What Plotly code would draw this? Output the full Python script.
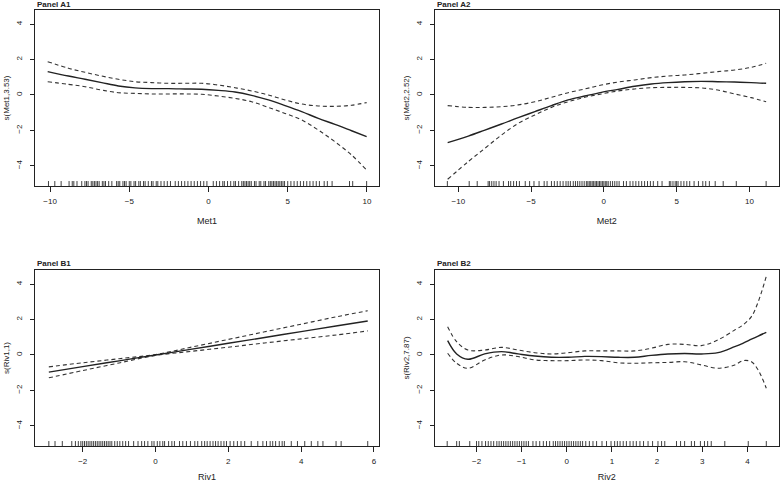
import plotly.graph_objects as go

# ---------------- data ----------------
# Panel A1 (Met1)
a1_x = [-10.15, -8.84, -7.79, -6.74, -5.69, -4.64, -3.59, -2.53, -1.48, -0.43, 0.62, 1.67, 2.72, 3.78, 4.83, 5.88, 6.93, 7.98, 9.03, 9.98]
a1_fit = [1.32, 1.07, 0.89, 0.70, 0.51, 0.40, 0.36, 0.36, 0.34, 0.32, 0.26, 0.17, -0.02, -0.28, -0.60, -0.94, -1.32, -1.66, -2.02, -2.35]
a1_up = [1.88, 1.51, 1.28, 1.07, 0.89, 0.75, 0.70, 0.66, 0.66, 0.66, 0.56, 0.41, 0.23, 0.00, -0.28, -0.51, -0.62, -0.64, -0.58, -0.43]
a1_lo = [0.75, 0.60, 0.47, 0.28, 0.13, 0.09, 0.06, 0.06, 0.06, 0.04, -0.06, -0.19, -0.38, -0.70, -1.04, -1.41, -1.98, -2.64, -3.39, -4.24]
a1_rug = [-10.1, -9.7, -9.3, -8.8, -8.6, -8.5, -8.3, -8.0, -7.8, -7.7, -7.6, -7.4, -7.3, -7.2, -7.1, -7.0, -6.9,
          -6.7, -6.6, -6.5, -6.3, -6.1, -5.8, -5.7, -5.6, -5.4, -5.3, -5.2, -5.0, -4.9, -4.7, -4.6, -4.4, -4.3,
          -4.1, -4.0, -3.8, -3.6, -3.5, -3.3, -3.2, -3.0, -2.8, -2.6, -2.4, -2.1, -1.9, -1.7, -1.5, -1.3, -1.1,
          -0.9, -0.7, -0.5, -0.3, -0.1, 0.3, 0.5, 0.7, 0.9, 1.0, 1.2, 1.4, 1.6, 1.7, 1.9, 2.1, 2.2, 2.3, 2.4,
          2.5, 2.6, 2.7, 2.9, 3.0, 3.2, 3.3, 3.5, 3.6, 3.8, 3.9, 4.0, 4.1, 4.2, 4.3, 4.4, 4.5, 4.6, 4.7, 4.8,
          5.0, 5.2, 5.4, 5.6, 5.8, 6.0, 6.2, 6.4, 6.6, 6.8, 7.0, 7.3, 7.5, 7.8, 8.9, 9.1, 9.98]

# Panel A2 (Met2)
a2_x = [-10.73, -9.31, -8.17, -7.03, -5.88, -4.74, -3.60, -2.45, -1.31, -0.17, 0.98, 2.12, 3.26, 4.41, 5.55, 6.69, 7.83, 8.98, 10.12, 11.15]
a2_fit = [-2.69, -2.32, -1.98, -1.64, -1.28, -0.94, -0.60, -0.28, -0.06, 0.15, 0.32, 0.49, 0.62, 0.70, 0.75, 0.77, 0.75, 0.73, 0.70, 0.66]
a2_up = [-0.60, -0.70, -0.70, -0.66, -0.56, -0.38, -0.13, 0.13, 0.34, 0.56, 0.73, 0.85, 0.98, 1.07, 1.13, 1.22, 1.32, 1.41, 1.56, 1.79]
a2_lo = [-4.76, -3.76, -3.01, -2.26, -1.60, -1.13, -0.70, -0.38, -0.13, 0.06, 0.23, 0.34, 0.41, 0.43, 0.43, 0.40, 0.28, 0.06, -0.15, -0.38]
a2_rug = [-10.75, -9.25, -8.7, -7.95, -7.85, -7.7, -7.55, -7.4, -7.2, -6.9, -6.55, -6.4, -6.2, -6.0, -5.8, -5.4,
          -5.1, -4.8, -4.45, -4.1, -3.9, -3.6, -3.4, -3.2, -3.0, -2.8, -2.6, -2.45, -2.3, -2.1, -1.95, -1.8,
          -1.65, -1.5, -1.35, -1.2, -1.1, -1.0, -0.9, -0.8, -0.7, -0.6, -0.5, -0.4, -0.3, -0.2, -0.1, 0.0,
          0.1, 0.2, 0.3, 0.45, 0.6, 0.75, 0.9, 1.05, 1.35, 1.55, 1.8, 2.0, 2.2, 2.4, 2.6, 2.8, 3.0, 3.2, 3.4,
          3.7, 4.0, 4.5, 4.6, 4.75, 4.9, 5.0, 5.1, 5.3, 5.5, 5.7, 5.9, 6.2, 6.5, 6.8, 7.0, 7.25, 7.65, 8.2,
          9.1, 11.15]

# Panel B1 (Riv1)
b1_x = [-2.93, -2.0, -1.0, 0.0, 1.0, 2.0, 3.0, 4.0, 5.0, 5.83]
b1_fit = [-0.97, -0.66, -0.33, 0.0, 0.33, 0.66, 0.99, 1.32, 1.65, 1.92]
b1_up = [-0.67, -0.44, -0.21, 0.03, 0.45, 0.88, 1.31, 1.74, 2.17, 2.50]
b1_lo = [-1.29, -0.88, -0.45, -0.03, 0.21, 0.44, 0.68, 0.91, 1.14, 1.36]
b1_rug = [-2.93, -2.76, -2.56, -2.3, -2.2, -2.12, -2.05, -2.0, -1.95, -1.9, -1.85, -1.8, -1.75, -1.7, -1.65,
          -1.6, -1.55, -1.5, -1.45, -1.4, -1.35, -1.3, -1.25, -1.2, -1.12, -1.05, -0.98, -0.9, -0.82, -0.74,
          -0.6, -0.48, -0.38, -0.3, -0.21, -0.1, -0.04, 0.05, 0.12, 0.2, 0.25, 0.36, 0.45, 0.52, 0.66, 0.75,
          0.85, 0.96, 1.08, 1.16, 1.27, 1.35, 1.42, 1.5, 1.58, 1.65, 1.72, 1.8, 1.88, 1.95, 2.05, 2.15, 2.25,
          2.35, 2.45, 2.63, 2.81, 2.95, 3.05, 3.15, 3.22, 3.3, 3.4, 3.48, 3.54, 3.73, 3.9, 4.1, 4.28, 4.46,
          4.6, 4.96, 5.1, 5.83]

# Panel B2 (Riv2)
b2_x = [-2.64, -2.44, -2.19, -1.82, -1.45, -1.08, -0.71, -0.34, 0.03, 0.40, 0.77, 1.14, 1.50, 1.87, 2.24, 2.61, 2.98, 3.35, 3.72, 3.90, 4.09, 4.24, 4.42]
b2_fit = [0.81, 0.06, -0.24, 0.06, 0.19, 0.06, -0.06, -0.13, -0.13, -0.08, -0.09, -0.13, -0.13, -0.02, 0.06, 0.08, 0.06, 0.13, 0.47, 0.66, 0.89, 1.07, 1.28]
b2_up = [1.60, 0.75, 0.28, 0.28, 0.43, 0.28, 0.13, 0.06, 0.13, 0.23, 0.23, 0.23, 0.23, 0.38, 0.60, 0.60, 0.53, 0.85, 1.41, 1.69, 2.17, 3.00, 4.45]
b2_lo = [0.10, -0.47, -0.75, -0.28, 0.00, -0.09, -0.28, -0.32, -0.32, -0.28, -0.32, -0.44, -0.47, -0.44, -0.42, -0.38, -0.56, -0.75, -0.56, -0.32, -0.38, -0.85, -1.88]
b2_rug = [-2.65, -2.44, -2.38, -2.15, -2.0, -1.95, -1.88, -1.8, -1.74, -1.68, -1.62, -1.55, -1.5, -1.45, -1.4,
          -1.35, -1.3, -1.25, -1.2, -1.15, -1.1, -1.05, -1.0, -0.95, -0.9, -0.85, -0.75, -0.68, -0.6, -0.52,
          -0.45, -0.38, -0.3, -0.25, -0.2, -0.15, -0.1, -0.05, 0.0, 0.05, 0.1, 0.15, 0.2, 0.25, 0.3, 0.35,
          0.42, 0.5, 0.58, 0.66, 0.78, 0.88, 0.98, 1.06, 1.12, 1.18, 1.25, 1.32, 1.4, 1.47, 1.54, 1.62, 1.7,
          1.8, 1.9, 2.02, 2.1, 2.17, 2.43, 2.52, 2.61, 2.76, 2.83, 2.96, 3.05, 3.12, 3.2, 3.5, 4.02, 4.42]

panel_titles = ["Panel A1", "Panel A2", "Panel B1", "Panel B2"]
x_titles = ["Met1", "Met2", "Riv1", "Riv2"]
y_titles = ["s(Met1,3.53)", "s(Met2,2.52)", "s(Riv1,1)", "s(Riv2,7.87)"]
x_ticks = [[-10, -5, 0, 5, 10], [-10, -5, 0, 5, 10], [-2, 0, 2, 4, 6], [-2, -1, 0, 1, 2, 3, 4]]
y_ticks = [-4, -2, 0, 2, 4]

# ---------------- layout geometry ----------------
W, H = 780, 482
x_ranges = [[-10.95, 10.76], [-11.6, 12.0], [-3.31, 6.14], [-2.92, 4.69]]
y_range = [-5.14, 4.8]
px_boxes = [  # left, right, top, bottom in pixels
    (35, 379, 10, 186),
    (435, 778.5, 10, 186),
    (35, 379, 270, 446),
    (435, 778.5, 270, 446),
]
title_y_px = [5, 5, 263, 263]

panels = [
    (a1_x, a1_fit, a1_up, a1_lo, a1_rug),
    (a2_x, a2_fit, a2_up, a2_lo, a2_rug),
    (b1_x, b1_fit, b1_up, b1_lo, b1_rug),
    (b2_x, b2_fit, b2_up, b2_lo, b2_rug),
]

FONT = "Liberation Sans, Arial, sans-serif"
fig = go.Figure()
layout = {}
annotations = []

rug_len = 0.28  # in y units (~5 px)

for i, (xs, fit, up, lo, rug) in enumerate(panels):
    n = i + 1
    xa = "x" if n == 1 else f"x{n}"
    ya = "y" if n == 1 else f"y{n}"
    for band in (up, lo):
        fig.add_trace(go.Scatter(x=xs, y=band, mode="lines", xaxis=xa, yaxis=ya,
                                 line=dict(color="#333333", width=1.1, dash="4px,3px", shape="spline"),
                                 showlegend=False, hoverinfo="skip"))
    fig.add_trace(go.Scatter(x=xs, y=fit, mode="lines", xaxis=xa, yaxis=ya,
                             line=dict(color="#222222", width=1.4, shape="spline"),
                             showlegend=False, hoverinfo="skip"))
    rx, ry = [], []
    for v in rug:
        rx += [v, v, None]
        ry += [y_range[0], y_range[0] + rug_len, None]
    fig.add_trace(go.Scatter(x=rx, y=ry, mode="lines", xaxis=xa, yaxis=ya,
                             line=dict(color="#111111", width=0.8),
                             showlegend=False, hoverinfo="skip"))

    l, r, t, b = px_boxes[i]
    xkey = "xaxis" if n == 1 else f"xaxis{n}"
    ykey = "yaxis" if n == 1 else f"yaxis{n}"
    layout[xkey] = dict(
        domain=[l / W, r / W], range=x_ranges[i], anchor=ya, automargin=False,
        tickmode="array", tickvals=x_ticks[i],
        ticks="outside", ticklen=5, tickwidth=1, tickcolor="#222",
        showline=True, mirror=True, linecolor="#222", linewidth=1,
        showgrid=False, zeroline=False, ticklabelstandoff=2,
        tickfont=dict(family=FONT, size=8, color="#222"),
        title=dict(text=x_titles[i], font=dict(family=FONT, size=9, color="#222"), standoff=13),
    )
    layout[ykey] = dict(
        domain=[1 - b / H, 1 - t / H], range=y_range, anchor=xa, automargin=False,
        tickmode="array", tickvals=y_ticks,
        ticks="outside", ticklen=4, tickwidth=1, tickcolor="#222",
        showline=True, mirror=True, linecolor="#222", linewidth=1,
        showgrid=False, zeroline=False, tickangle=-90, ticklabelstandoff=5,
        tickfont=dict(family=FONT, size=8, color="#222"),
        title=dict(text=y_titles[i], font=dict(family=FONT, size=8, color="#222"), standoff=3),
    )
    annotations.append(dict(
        text="<b>" + panel_titles[i] + "</b>", xref="paper", yref="paper",
        x=l / W, y=1 - title_y_px[i] / H, xanchor="left", yanchor="middle", showarrow=False,
        font=dict(family=FONT, size=8, color="#222"),
    ))

fig.update_layout(
    width=W, height=H,
    margin=dict(l=0, r=0, t=0, b=0),
    paper_bgcolor="white", plot_bgcolor="white",
    annotations=annotations,
    **layout,
)

fig.write_html(
    "out.html",
    config={"displayModeBar": False},
    post_script="document.body.style.margin='0';document.body.style.padding='0';document.body.style.overflow='hidden';",
)
